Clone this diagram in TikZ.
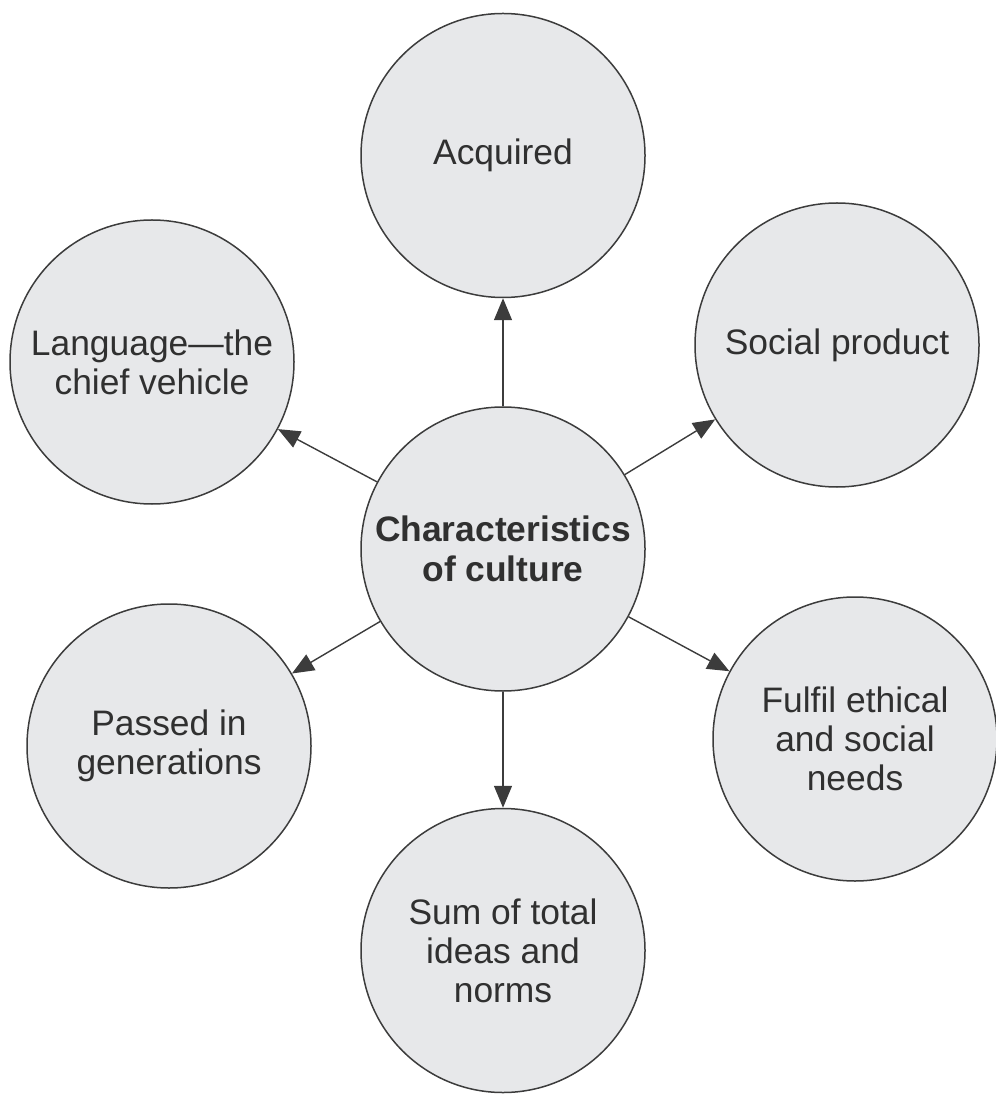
\documentclass[tikz,border=0pt]{standalone}
\usepackage{fontspec}
\setmainfont{Liberation Sans}
\usepackage{tikz}
\usetikzlibrary{arrows.meta,positioning}
\definecolor{relleno}{HTML}{E7E8EA}
\definecolor{borde}{HTML}{3C3C3C}
\definecolor{texto}{HTML}{303030}

\begin{document}
\begin{tikzpicture}[x=0.5pt, y=-0.5pt,
  font=\fontsize{17.7}{19.5}\selectfont,
  burbuja/.style={circle, draw=borde, line width=0.75pt, fill=relleno, text=texto, minimum size=142pt, inner sep=0pt, align=center},
  centro/.style={burbuja, font=\fontsize{17.7}{20}\selectfont\bfseries},
  flecha/.style={-{Triangle[length=11pt,width=9pt]}, borde, line width=0.7pt}]
\useasboundingbox (0,0) rectangle (995,1095);
\node[centro] (cult) at (503,549) {Characteristics\\of culture};
\node[burbuja, above=54pt of cult] (acq) {Acquired};
\node[burbuja, below=58pt of cult] (suma) {Sum of total\\ideas and\\norms};
\node[burbuja] (leng) at (152,362) {Language---the\\chief vehicle};
\node[burbuja] (soc) at (837,345) {Social product};
\node[burbuja] (gen) at (169,746) {Passed in\\generations};
\node[burbuja] (etic) at (855,739) {Fulfil ethical\\and social\\needs};
\draw[flecha] (cult) -- (acq); \draw[flecha] (cult) -- (suma);
\draw[flecha] (cult) -- (leng); \draw[flecha] (cult) -- (soc);
\draw[flecha] (cult) -- (gen); \draw[flecha] (cult) -- (etic);
\end{tikzpicture}
\end{document}
